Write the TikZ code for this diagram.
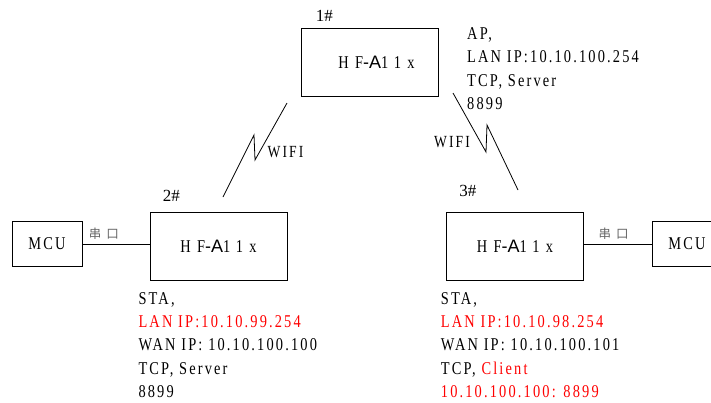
\documentclass[tikz,border=0pt]{standalone}
\usepackage{fontspec}
\setmainfont{Liberation Serif}[FakeStretch=0.8,LetterSpace=12]
\newfontfamily\plainfont{Liberation Serif}
\newfontfamily\modfont{Liberation Serif}[FakeStretch=0.8,LetterSpace=35]
\newfontfamily\sansfont{Liberation Sans}
\newfontfamily\cjk{Noto Sans CJK SC}
\usetikzlibrary{positioning}

\newcommand{\hfname}{{\modfont HF}{\sansfont -A}{\modfont 11x}}

\begin{document}
\begin{tikzpicture}[
x=1pt, y=-1pt,
font=\fontsize{18}{23.4}\selectfont,
module/.style={rectangle, draw, line width=0.8pt, minimum width=137pt, minimum height=68pt, inner sep=0pt},
mcu/.style={rectangle, draw, line width=0.8pt, minimum width=70pt, minimum height=45pt, inner sep=0pt},
tag/.style={font=\plainfont\fontsize{17}{17}\selectfont, inner sep=0pt},
info/.style={align=left, inner sep=0pt, anchor=north west},
port/.style={font=\cjk\fontsize{12.5}{12.5}\selectfont, text=black!60, inner sep=0pt},
wifi/.style={font=\fontsize{17}{17}\selectfont, inner sep=0pt},
link/.style={line width=0.8pt}
]
\useasboundingbox (0,0) rectangle (711,402);
\clip (0,0) rectangle (711,402);

% modules and MCUs
\node[module] (m1) at (369.5,62) {\hspace*{14pt}\hfname};
\node[module] (m2) at (218.5,246) {\hfname};
\node[module] (m3) at (515,246) {\hfname};
\node[mcu] (mcuL) at (47,244) {MCU};
\node[mcu] (mcuR) at (687,244) {MCU};

\node[tag, above right=6pt and 15pt of m1.north west] (n1) {1\#};
\node[tag, above right=10pt and 13pt of m2.north west] (n2) {2\#};
\node[tag, above right=15pt and 13pt of m3.north west] (n3) {3\#};

% settings
\node[info] (ap) at (467,27.5) {AP,\\LAN IP:10.10.100.254\\TCP, Server\\8899};
\node[info] (sta2) at (138.3,292) {STA,\\\textcolor{red}{LAN IP:10.10.99.254}\\WAN IP: 10.10.100.100\\TCP, Server\\8899};
\node[info] (sta3) at (440.7,292) {STA,\\\textcolor{red}{LAN IP:10.10.98.254}\\WAN IP: 10.10.100.101\\TCP, \textcolor{red}{Client}\\\textcolor{red}{10.10.100.100: 8899}};

% serial links
\draw[link] (mcuL.east) -- node[port, pos=0.32, above=4pt] {串\hspace{5pt}口} (mcuL.east -| m2.west);
\draw[link] (mcuR.west -| m3.east) -- node[port, pos=0.44, above=4pt] {串\hspace{5pt}口} (mcuR.west);

% wifi links
\coordinate (wL1) at (223,197);
\coordinate (wL2) at (254,135);
\coordinate (wL3) at (255,160);
\coordinate (wL4) at (287,103);
\draw[link] (wL1) -- (wL2) -- (wL3) -- (wL4);
\node[wifi] (wifiL) at (285.5,152) {WIFI};

\coordinate (wR1) at (453,93);
\coordinate (wR2) at (486,152);
\coordinate (wR3) at (487,125);
\coordinate (wR4) at (518,190);
\draw[link] (wR1) -- (wR2) -- (wR3) -- (wR4);
\node[wifi] (wifiR) at (452,142) {WIFI};

\end{tikzpicture}
\end{document}
